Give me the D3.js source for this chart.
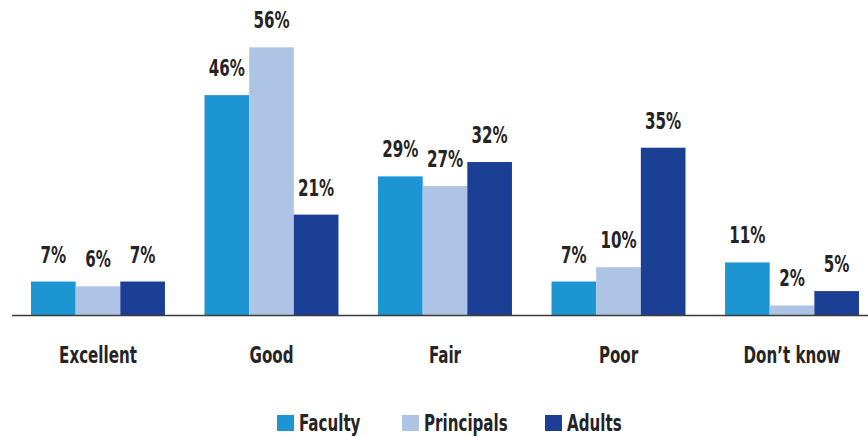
<!DOCTYPE html>
<html>
<head>
<meta charset="utf-8">
<script src="https://cdn.jsdelivr.net/npm/d3@7"></script>
<style>
  html, body { margin: 0; padding: 0; background: #fff; }
  svg text { font-family: "Liberation Sans Narrow", "DejaVu Sans Condensed", "Roboto Condensed", sans-serif; font-weight: bold; fill: #262324; }
</style>
</head>
<body>
<svg id="chart" width="868" height="437"></svg>
<script>
// Survey ratings by group
const categories = ["Excellent", "Good", "Fair", "Poor", "Don\u2019t know"];
const seriesNames = ["Faculty", "Principals", "Adults"];
const faculty = [7, 46, 29, 7, 11];
const principals = [6, 56, 27, 10, 2];
const adults = [7, 21, 32, 35, 5];
const colors = ["#1e95d3", "#aec4e5", "#1b3f95"];

const series = [faculty, principals, adults];
const rows = categories.map((c, i) => ({
  category: c,
  values: seriesNames.map((s, j) => ({ key: s, value: series[j][i], color: colors[j] }))
}));

// narrow the condensed face a little further
const squeeze = 0.73;

const svg = d3.select("#chart");
const baseY = 315;

const x0 = d3.scaleBand().domain(categories).range([31, 859]).paddingInner(0.228).paddingOuter(0);
const x1 = d3.scaleBand().domain(seriesNames).range([0, x0.bandwidth()]).padding(0);
const y = d3.scaleLinear().domain([0, 60]).range([baseY, baseY - 60 * 4.78]);

const groups = svg.append("g").selectAll("g")
  .data(rows).join("g")
  .attr("transform", d => `translate(${x0(d.category)},0)`);

groups.selectAll("rect")
  .data(d => d.values).join("rect")
  .attr("x", d => x1(d.key))
  .attr("width", x1.bandwidth())
  .attr("y", d => y(d.value))
  .attr("height", d => y(0) - y(d.value))
  .attr("fill", d => d.color);

groups.selectAll("text.val")
  .data(d => d.values).join("text")
  .attr("class", "val")
  .attr("transform", d => `translate(${x1(d.key) + x1.bandwidth() / 2},${y(d.value) - 19}) scale(${squeeze},1)`)
  .attr("text-anchor", "middle")
  .style("font-size", "23px")
  .text(d => d.value + "%");

// baseline
svg.append("line")
  .attr("x1", 12).attr("x2", 868)
  .attr("y1", baseY + 0.5).attr("y2", baseY + 0.5)
  .attr("stroke", "#3a3a3a").attr("stroke-width", 1.6);

// category labels
const xAxis = d3.axisBottom(x0).tickSize(0).tickPadding(0);
const ax = svg.append("g").attr("transform", `translate(0,${baseY})`).call(xAxis);
ax.select(".domain").remove();
ax.selectAll("text")
  .attr("y", null)
  .attr("dy", null)
  .attr("transform", `translate(0,48) scale(${squeeze},1)`)
  .style("font-size", "23px")
  .attr("fill", "#262324");

// legend
const legendX = [277, 402, 545];
const legend = svg.append("g").selectAll("g")
  .data(seriesNames).join("g")
  .attr("transform", (d, i) => `translate(${legendX[i]},415)`);
legend.append("rect")
  .attr("width", 17).attr("height", 16)
  .attr("fill", (d, i) => colors[i]);
legend.append("text")
  .attr("transform", `translate(22,16) scale(${squeeze},1)`)
  .style("font-size", "23px")
  .text(d => d);
</script>
</body>
</html>
